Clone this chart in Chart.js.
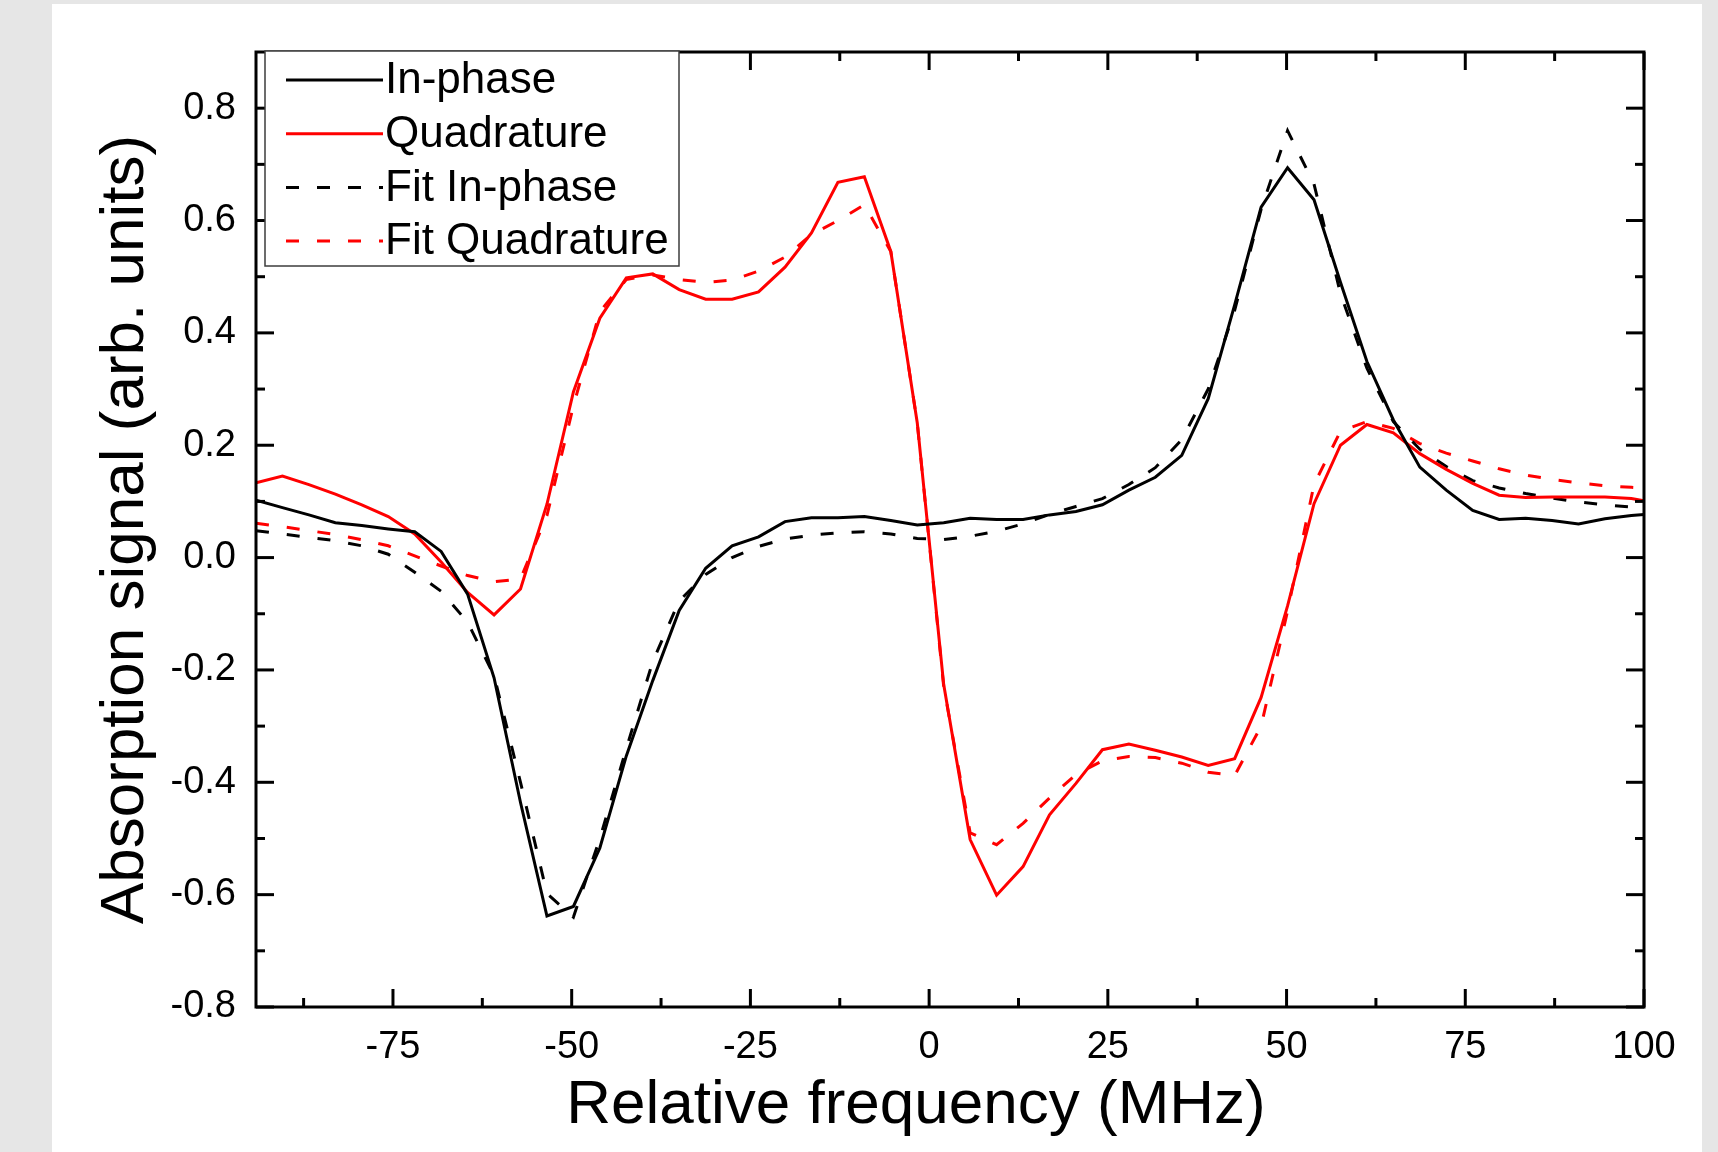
<!DOCTYPE html>
<html>
<head>
<meta charset="utf-8">
<title>Absorption signal</title>
<script src="https://cdn.jsdelivr.net/npm/chart.js@4.4.1/dist/chart.umd.min.js"></script>
<style>
  html, body { margin: 0; padding: 0; background: #e6e6e6; }
  #wrap { position: relative; width: 1718px; height: 1152px; }
  #paper { position: absolute; left: 52px; top: 4px; width: 1650px; height: 1148px; background: #fff; }
  #plot { position: absolute; left: 0; top: 0; }
</style>
</head>
<body>
<div id="wrap">
  <div id="paper"></div>
  <canvas id="plot" width="1718" height="1152"></canvas>
</div>
<script>
const FONT = "'Liberation Sans', Arial, sans-serif";

// relative frequency (MHz) of every sample
const freq = [
  -94.16, -90.46, -86.76, -83.06, -79.36, -75.66, -71.96, -68.26, -64.56, -60.86,
  -57.16, -53.46, -49.76, -46.06, -42.36, -38.66, -34.96, -31.26, -27.56, -23.86,
  -20.16, -16.46, -12.76, -9.06, -5.36, -1.66, 2.04, 5.74, 9.44, 13.14,
  16.84, 20.54, 24.24, 27.94, 31.64, 35.34, 39.04, 42.74, 46.44, 50.14,
  53.84, 57.54, 61.24, 64.94, 68.64, 72.34, 76.04, 79.74, 83.44, 87.14,
  90.84, 94.54, 98.24, 101.94
];

const inPhase = [
  0.102, 0.089, 0.076, 0.062, 0.057, 0.051, 0.046, 0.011, -0.065, -0.214,
  -0.436, -0.638, -0.621, -0.517, -0.353, -0.219, -0.094, -0.019, 0.021, 0.037,
  0.064, 0.071, 0.071, 0.073, 0.066, 0.058, 0.062, 0.070, 0.068, 0.068,
  0.076, 0.082, 0.094, 0.120, 0.143, 0.182, 0.283, 0.450, 0.624, 0.694,
  0.637, 0.490, 0.349, 0.245, 0.161, 0.120, 0.084, 0.068, 0.070, 0.066,
  0.060, 0.069, 0.075, 0.079
];

const quadrature = [
  0.133, 0.145, 0.130, 0.113, 0.094, 0.073, 0.042, -0.008, -0.062, -0.102,
  -0.056, 0.095, 0.295, 0.426, 0.498, 0.505, 0.477, 0.460, 0.460, 0.473,
  0.517, 0.578, 0.668, 0.678, 0.545, 0.240, -0.226, -0.502, -0.601, -0.550,
  -0.458, -0.402, -0.342, -0.332, -0.343, -0.355, -0.370, -0.358, -0.249, -0.086,
  0.096, 0.200, 0.237, 0.222, 0.185, 0.157, 0.132, 0.111, 0.107, 0.108,
  0.108, 0.108, 0.105, 0.097
];

const fitInPhase = [
  0.048, 0.042, 0.036, 0.030, 0.021, 0.006, -0.026, -0.060, -0.115, -0.210,
  -0.400, -0.598, -0.640, -0.500, -0.340, -0.185, -0.077, -0.030, 0.000, 0.020,
  0.033, 0.040, 0.044, 0.046, 0.042, 0.034, 0.032, 0.038, 0.047, 0.060,
  0.077, 0.091, 0.105, 0.130, 0.160, 0.210, 0.300, 0.440, 0.620, 0.760,
  0.665, 0.470, 0.337, 0.242, 0.193, 0.162, 0.137, 0.124, 0.114, 0.106,
  0.099, 0.094, 0.090, 0.088
];

const fitQuadrature = [
  0.061, 0.055, 0.048, 0.041, 0.032, 0.021, 0.003, -0.015, -0.032, -0.043,
  -0.038, 0.075, 0.270, 0.438, 0.495, 0.503, 0.495, 0.490, 0.494, 0.510,
  0.535, 0.575, 0.600, 0.628, 0.545, 0.240, -0.230, -0.490, -0.511, -0.473,
  -0.428, -0.386, -0.362, -0.354, -0.356, -0.366, -0.382, -0.388, -0.300, -0.095,
  0.130, 0.225, 0.242, 0.230, 0.203, 0.186, 0.172, 0.158, 0.147, 0.139,
  0.133, 0.128, 0.125, 0.122
];

const seriesNames = ["In-phase", "Quadrature", "Fit In-phase", "Fit Quadrature"];

const xTicks = [-75, -50, -25, 0, 25, 50, 75, 100];
const xMinorTicks = [-87.5, -62.5, -37.5, -12.5, 12.5, 37.5, 62.5, 87.5];
const yTicks = [-0.8, -0.6, -0.4, -0.2, 0, 0.2, 0.4, 0.6, 0.8];
const yMinorTicks = [-0.7, -0.5, -0.3, -0.1, 0.1, 0.3, 0.5, 0.7];

const xTitle = "Relative frequency (MHz)";
const yTitle = "Absorption signal (arb. units)";

function toPoints(values) {
  return values.map((v, i) => ({ x: freq[i], y: v }));
}

function lineSet(label, values, color, dash) {
  return {
    label: label,
    data: toPoints(values),
    borderColor: color,
    backgroundColor: color,
    borderWidth: 3,
    borderDash: dash,
    pointRadius: 0,
    tension: 0,
    fill: false,
  };
}

// inward ticks on all four sides, plus the closed frame
const framePlugin = {
  id: "frame",
  afterDatasetsDraw(chart) {
    const { ctx, chartArea: a } = chart;
    const x = chart.scales.x;
    const y = chart.scales.y;
    ctx.save();
    ctx.strokeStyle = "#000";
    ctx.lineWidth = 3;
    const seg = (x1, y1, x2, y2) => {
      ctx.beginPath();
      ctx.moveTo(x1, y1);
      ctx.lineTo(x2, y2);
      ctx.stroke();
    };
    xTicks.forEach((v) => {
      const px = x.getPixelForValue(v);
      seg(px, a.bottom, px, a.bottom - 18);
      seg(px, a.top, px, a.top + 18);
    });
    xMinorTicks.forEach((v) => {
      const px = x.getPixelForValue(v);
      seg(px, a.bottom, px, a.bottom - 9);
      seg(px, a.top, px, a.top + 9);
    });
    yTicks.forEach((v) => {
      const py = y.getPixelForValue(v);
      seg(a.left, py, a.left + 18, py);
      seg(a.right, py, a.right - 18, py);
    });
    yMinorTicks.forEach((v) => {
      const py = y.getPixelForValue(v);
      seg(a.left, py, a.left + 9, py);
      seg(a.right, py, a.right - 9, py);
    });
    ctx.strokeRect(a.left, a.top, a.right - a.left, a.bottom - a.top);

    // x title sits a little left of the axis centre in the original
    ctx.fillStyle = "#000";
    ctx.font = "62px " + FONT;
    ctx.textAlign = "center";
    ctx.textBaseline = "alphabetic";
    ctx.fillText(xTitle, (x.left + x.right) / 2 - 34, 1123);
    ctx.restore();
  },
};

// boxed legend in the top left corner of the plot
const boxLegend = {
  id: "boxLegend",
  afterDraw(chart) {
    const { ctx, chartArea: a } = chart;
    const bx = a.left + 9;
    const by = a.top - 1;
    const bw = 414;
    const bh = 215;
    ctx.save();
    ctx.fillStyle = "#fff";
    ctx.fillRect(bx, by, bw, bh);
    ctx.strokeStyle = "#3c3c3c";
    ctx.lineWidth = 1.5;
    ctx.strokeRect(bx, by, bw, bh);

    ctx.font = "44px " + FONT;
    ctx.textAlign = "left";
    ctx.textBaseline = "middle";
    chart.data.datasets.forEach((ds, i) => {
      const ry = by + 29 + i * 53.7;
      ctx.strokeStyle = ds.borderColor;
      ctx.lineWidth = 3;
      ctx.setLineDash(ds.borderDash || []);
      ctx.beginPath();
      ctx.moveTo(bx + 21, ry);
      ctx.lineTo(bx + 118, ry);
      ctx.stroke();
      ctx.setLineDash([]);
      ctx.fillStyle = "#000";
      ctx.fillText(ds.label, bx + 120, ry + 1);
    });
    ctx.restore();
  },
};

const config = {
  type: "line",
  data: {
    datasets: [
      lineSet(seriesNames[0], inPhase, "#000000", []),
      lineSet(seriesNames[1], quadrature, "#ff0000", []),
      lineSet(seriesNames[2], fitInPhase, "#000000", [13, 18]),
      lineSet(seriesNames[3], fitQuadrature, "#ff0000", [13, 18]),
    ],
  },
  options: {
    responsive: false,
    animation: false,
    events: [],
    layout: { padding: { left: 0, top: 52, right: 74, bottom: 0 } },
    plugins: {
      legend: { display: false },
      tooltip: { enabled: false },
    },
    scales: {
      x: {
        type: "linear",
        min: -94.16,
        max: 100,
        afterFit: (s) => {
          s.height = 145;
        },
        afterBuildTicks: (s) => {
          s.ticks = xTicks.map((v) => ({ value: v }));
        },
        grid: { display: false, drawTicks: false },
        border: { display: false },
        ticks: {
          color: "#000",
          font: { family: FONT, size: 38 },
          padding: 18,
          maxRotation: 0,
          autoSkip: false,
          callback: (v) => String(v),
        },
        title: { display: false },
      },
      y: {
        type: "linear",
        min: -0.8,
        max: 0.9,
        afterFit: (s) => {
          s.width = 256;
        },
        afterBuildTicks: (s) => {
          s.ticks = yTicks.map((v) => ({ value: v }));
        },
        grid: { display: false, drawTicks: false },
        border: { display: false },
        ticks: {
          color: "#000",
          font: { family: FONT, size: 38 },
          padding: 20,
          autoSkip: false,
          callback: (v) => Number(v).toFixed(1),
        },
        title: {
          display: true,
          text: yTitle,
          color: "#000",
          font: { family: FONT, size: 62, lineHeight: 1.2 },
          padding: { top: 89, bottom: 0 },
        },
      },
    },
  },
  plugins: [framePlugin, boxLegend],
};

new Chart(document.getElementById("plot"), config);
</script>
</body>
</html>
